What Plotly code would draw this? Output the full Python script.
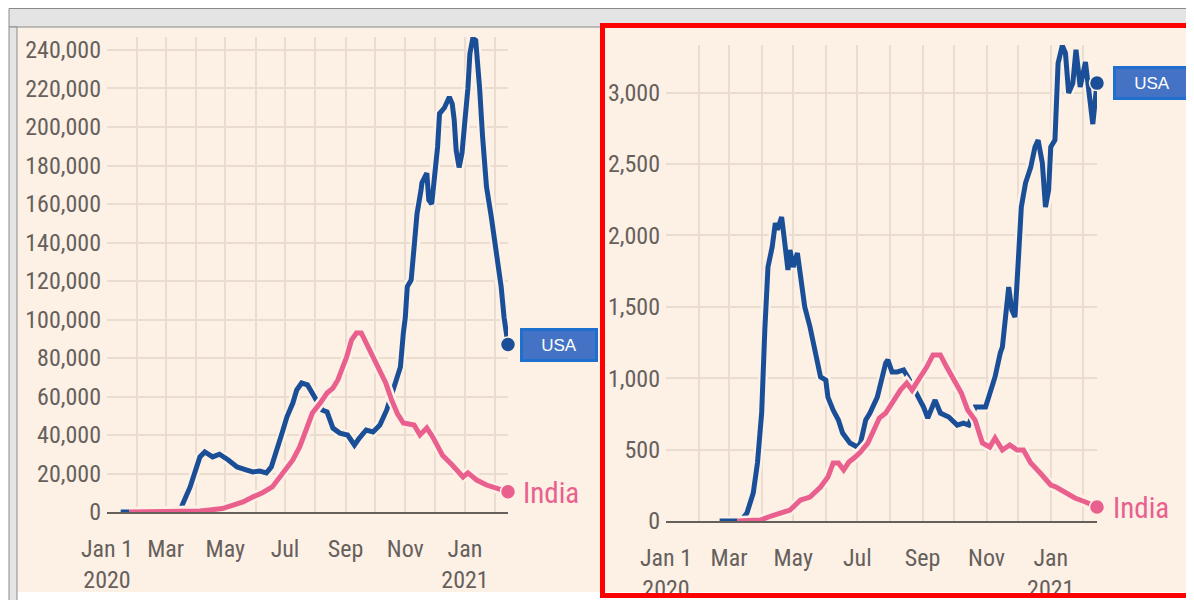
import plotly.graph_objects as go

# the page puts the figure 8px in from the top-left corner, so the figure
# is sized to fill the rest of the 1194x600 window
W, H = 1186, 592
OFF = 8

# daily new cases, 7-day average (left panel)
usa_case_dates = [
    "2020-01-15", "2020-03-10", "2020-03-17", "2020-03-26", "2020-04-05", "2020-04-10",
    "2020-04-18", "2020-04-25", "2020-05-04", "2020-05-13", "2020-05-23", "2020-05-29",
    "2020-06-05", "2020-06-12", "2020-06-17", "2020-06-22", "2020-06-28", "2020-07-03",
    "2020-07-09", "2020-07-13", "2020-07-18", "2020-07-24", "2020-07-29", "2020-08-02",
    "2020-08-08", "2020-08-13", "2020-08-19", "2020-08-26", "2020-09-03", "2020-09-10",
    "2020-09-15", "2020-09-22", "2020-09-29", "2020-10-06", "2020-10-13", "2020-10-19",
    "2020-10-27", "2020-10-30", "2020-11-01", "2020-11-03", "2020-11-07", "2020-11-10",
    "2020-11-13", "2020-11-17", "2020-11-18", "2020-11-23", "2020-11-25", "2020-11-28",
    "2020-12-01", "2020-12-04", "2020-12-06", "2020-12-11", "2020-12-16", "2020-12-19",
    "2020-12-21", "2020-12-23", "2020-12-26", "2020-12-29", "2021-01-01", "2021-01-04",
    "2021-01-06", "2021-01-09", "2021-01-12", "2021-01-14", "2021-01-16", "2021-01-19",
    "2021-01-23", "2021-01-28", "2021-02-02", "2021-02-07", "2021-02-10", "2021-02-14",
]
usa_cases = [
    0, 0, 2500, 13000, 28600, 31200,
    28600, 30000, 27000, 23400, 21800, 20800,
    21300, 20300, 23400, 30600, 41000, 49400,
    56600, 63400, 67000, 66000, 62300, 58200,
    53000, 52000, 43600, 41000, 40000, 34800,
    38400, 42600, 41600, 45200, 53000, 61800,
    75300, 93000, 101000, 117000, 120500, 137700,
    155000, 167000, 171000, 176000, 162000, 160000,
    174000, 189600, 207000, 210000, 215600, 212000,
    203600, 188000, 179000, 186500, 203600, 220000,
    238000, 246000, 245000, 235000, 220000, 195000,
    169000, 153000, 134500, 117000, 101000, 87000,
]
india_case_dates = [
    "2020-01-24", "2020-03-20", "2020-04-05", "2020-04-15", "2020-04-28", "2020-05-09",
    "2020-05-19", "2020-05-29", "2020-06-08", "2020-06-18", "2020-06-28", "2020-07-09",
    "2020-07-16", "2020-07-23", "2020-07-29", "2020-08-06", "2020-08-13", "2020-08-19",
    "2020-08-24", "2020-08-29", "2020-09-02", "2020-09-07", "2020-09-12", "2020-09-17",
    "2020-09-22", "2020-09-28", "2020-10-05", "2020-10-12", "2020-10-18", "2020-10-24",
    "2020-10-30", "2020-11-05", "2020-11-10", "2020-11-16", "2020-11-23", "2020-11-29",
    "2020-12-09", "2020-12-19", "2020-12-30", "2021-01-04", "2021-01-13", "2021-01-23",
    "2021-02-02", "2021-02-10", "2021-02-14",
]
india_cases = [
    0, 100, 500, 1000, 1800, 3600,
    5200, 7800, 10000, 13000, 19500, 27000,
    33800, 42600, 51400, 56600, 61800, 64400,
    68600, 75300, 80500, 89300, 93000, 93000,
    87800, 82600, 75300, 67000, 58200, 51000,
    46200, 46000, 45200, 40000, 43600, 39000,
    29500, 24400, 18200, 20300, 16600, 14000,
    12500, 11000, 10500,
]

# daily deaths, 7-day average (right panel)
usa_death_dates = [
    "2020-02-21", "2020-03-12", "2020-03-18", "2020-03-24", "2020-03-28", "2020-04-01",
    "2020-04-04", "2020-04-07", "2020-04-11", "2020-04-14", "2020-04-16", "2020-04-20",
    "2020-04-23", "2020-04-26", "2020-04-28", "2020-05-01", "2020-05-05", "2020-05-08",
    "2020-05-12", "2020-05-17", "2020-05-22", "2020-05-27", "2020-06-01", "2020-06-03",
    "2020-06-08", "2020-06-13", "2020-06-17", "2020-06-24", "2020-07-01", "2020-07-04",
    "2020-07-09", "2020-07-13", "2020-07-20", "2020-07-25", "2020-07-28", "2020-07-30",
    "2020-08-03", "2020-08-08", "2020-08-14", "2020-08-18", "2020-08-23", "2020-08-28",
    "2020-09-02", "2020-09-06", "2020-09-13", "2020-09-18", "2020-09-26", "2020-10-04",
    "2020-10-10", "2020-10-15", "2020-10-21", "2020-10-31", "2020-11-04", "2020-11-09",
    "2020-11-14", "2020-11-16", "2020-11-19", "2020-11-22", "2020-11-25", "2020-11-28",
    "2020-12-01", "2020-12-04", "2020-12-08", "2020-12-13", "2020-12-17", "2020-12-20",
    "2020-12-24", "2020-12-27", "2020-12-30", "2021-01-01", "2021-01-05", "2021-01-07",
    "2021-01-08", "2021-01-12", "2021-01-15", "2021-01-18", "2021-01-22", "2021-01-25",
    "2021-01-29", "2021-02-03", "2021-02-06", "2021-02-10", "2021-02-14",
]
usa_deaths = [
    0, 0, 56, 196, 406, 756,
    1337, 1779, 1919, 2087, 2040, 2129,
    1947, 1758, 1898, 1779, 1877, 1709,
    1499, 1359, 1177, 1009, 987, 868,
    777, 707, 616, 546, 518, 546,
    707, 756, 868, 1009, 1107, 1128,
    1044, 1044, 1058, 1009, 938, 868,
    798, 721, 847, 756, 728, 672,
    686, 672, 798, 798, 896, 1009,
    1177, 1219, 1429, 1639, 1478, 1429,
    1807, 2199, 2367, 2479, 2619, 2668,
    2507, 2199, 2318, 2619, 2668, 3088,
    3207, 3330, 3277, 2997, 3067, 3300,
    3040, 3214, 3032, 2780, 3067,
]
india_death_dates = [
    "2020-03-09", "2020-03-31", "2020-04-10", "2020-04-19", "2020-04-28", "2020-05-08",
    "2020-05-17", "2020-05-27", "2020-06-03", "2020-06-08", "2020-06-13", "2020-06-18",
    "2020-06-23", "2020-06-29", "2020-07-04", "2020-07-11", "2020-07-17", "2020-07-22",
    "2020-07-28", "2020-08-03", "2020-08-11", "2020-08-17", "2020-08-22", "2020-08-28",
    "2020-09-05", "2020-09-11", "2020-09-18", "2020-09-24", "2020-10-01", "2020-10-08",
    "2020-10-14", "2020-10-21", "2020-10-28", "2020-11-04", "2020-11-09", "2020-11-16",
    "2020-11-23", "2020-11-30", "2020-12-06", "2020-12-13", "2020-12-22", "2021-01-01",
    "2021-01-06", "2021-01-14", "2021-01-24", "2021-02-03", "2021-02-11", "2021-02-14",
]
india_deaths = [
    0, 7, 35, 56, 77, 147,
    168, 238, 308, 406, 406, 357,
    413, 448, 483, 546, 637, 721,
    756, 826, 917, 966, 917, 987,
    1078, 1163, 1163, 1078, 987, 896,
    777, 707, 546, 518, 581, 497,
    532, 497, 497, 406, 336, 252,
    238, 203, 161, 133, 105, 98,
]

month_ticks = ["2020-01-01", "2020-03-01", "2020-05-01", "2020-07-01",
               "2020-09-01", "2020-11-01", "2021-01-01"]
month_labels = ["Jan 1<br>2020", "Mar", "May", "Jul", "Sep", "Nov", "Jan<br>2021"]
case_ticks = [0, 20000, 40000, 60000, 80000, 100000, 120000,
              140000, 160000, 180000, 200000, 220000, 240000]
death_ticks = [0, 500, 1000, 1500, 2000, 2500, 3000]

CREAM = "#fdf0e5"
GRID = "#eadccf"
TEXT = "#66605c"
BLUE = "#1a4f98"
PINK = "#e95f8e"
FONT = "Liberation Sans Narrow, Roboto Condensed, Roboto, sans-serif"


# window pixel -> paper fraction
def px(x):
    return (x - OFF) / W


def py(y):
    return 1 - (y - OFF) / H


fig = go.Figure()


def add_country(dates, vals, color, xa, ya):
    # cream halo under each line, like the FT style
    fig.add_trace(go.Scatter(x=dates, y=vals, mode="lines", xaxis=xa, yaxis=ya,
                             line=dict(color=CREAM, width=10), hoverinfo="skip"))
    fig.add_trace(go.Scatter(x=dates, y=vals, mode="lines", xaxis=xa, yaxis=ya,
                             line=dict(color=color, width=5)))
    fig.add_trace(go.Scatter(x=dates[-1:], y=vals[-1:], mode="markers", xaxis=xa, yaxis=ya,
                             cliponaxis=False,
                             marker=dict(color=color, size=15, line=dict(color=CREAM, width=1.5))))


add_country(usa_case_dates, usa_cases, BLUE, "x", "y")
add_country(india_case_dates, india_cases, PINK, "x", "y")
add_country(usa_death_dates, usa_deaths, BLUE, "x2", "y2")
add_country(india_death_dates, india_deaths, PINK, "x2", "y2")


def xaxis(domain, anchor):
    return dict(
        domain=domain, anchor=anchor, type="date", range=["2020-01-01", "2021-02-14"],
        tickmode="array", tickvals=month_ticks, ticktext=month_labels,
        showgrid=True, gridcolor=GRID, gridwidth=2,
        minor=dict(tickmode="linear", tick0="2020-01-01", dtick="M1",
                   showgrid=True, gridcolor=GRID, gridwidth=2),
        showline=True, linecolor=TEXT, linewidth=2, layer="below traces",
        ticks="", ticklabelstandoff=14, zeroline=False, automargin=False,
        tickfont=dict(family=FONT, size=24, color=TEXT),
    )


def yaxis(domain, rng, vals, anchor):
    return dict(
        domain=domain, range=rng, tickmode="array", tickvals=vals,
        tickformat=",", showgrid=True, gridcolor=GRID, gridwidth=2,
        zeroline=False, showline=False, ticks="", ticklabelstandoff=5,
        automargin=False,
        tickfont=dict(family=FONT, size=24, color=TEXT), anchor=anchor,
    )


fig.update_layout(
    width=W, height=H, margin=dict(l=0, r=0, t=0, b=0, autoexpand=False),
    paper_bgcolor="white", plot_bgcolor=CREAM, showlegend=False,
    xaxis=xaxis([px(107), px(508)], "y"),
    yaxis=yaxis([py(512), py(37)], [0, 246750], case_ticks, "x"),
    xaxis2=xaxis([px(666), px(1097)], "y2"),
    yaxis2=yaxis([py(521), py(45)], [0, 3334], death_ticks, "x2"),
)

# screenshot frame: cream panel, grey window edge, red highlight box
fig.add_shape(type="rect", xref="paper", yref="paper", layer="below",
              x0=px(17), x1=1, y0=py(592), y1=py(27), fillcolor=CREAM, line_width=0)
fig.add_shape(type="rect", xref="paper", yref="paper", layer="below",
              x0=px(9), x1=1.01, y0=py(27), y1=py(8.5), fillcolor="#e4e4e4",
              line=dict(color="#8a8a8a", width=1))
fig.add_shape(type="rect", xref="paper", yref="paper", layer="below",
              x0=px(9), x1=px(17), y0=-0.01, y1=py(27), fillcolor="#e4e4e4",
              line=dict(color="#8a8a8a", width=1))
fig.add_shape(type="rect", xref="paper", yref="paper", layer="above",
              x0=px(602.5), x1=px(1192), y0=py(595.5), y1=py(25.5),
              line=dict(color="#ff0000", width=5))

label_boxes = [("x", "y", usa_case_dates, usa_cases, 12),
               ("x2", "y2", usa_death_dates, usa_deaths, 16)]
for xa, ya, d, v, shift in label_boxes:
    fig.add_annotation(x=d[-1], y=v[-1], xref=xa, yref=ya, text="USA", showarrow=False,
                       xanchor="left", yanchor="middle", xshift=shift,
                       width=72, height=28, bgcolor="#4472c4", bordercolor="#1f6fcf",
                       borderwidth=3, borderpad=0,
                       font=dict(family="Liberation Sans, Arial, sans-serif", size=17, color="white"))

india_labels = [("x", "y", india_case_dates, india_cases, 13),
                ("x2", "y2", india_death_dates, india_deaths, 14)]
for xa, ya, d, v, shift in india_labels:
    fig.add_annotation(x=d[-1], y=v[-1], xref=xa, yref=ya, text="India", showarrow=False,
                       xanchor="left", yanchor="middle", xshift=shift, yshift=-1,
                       font=dict(family=FONT, size=29, color=PINK))

fig.write_html("out.html")
